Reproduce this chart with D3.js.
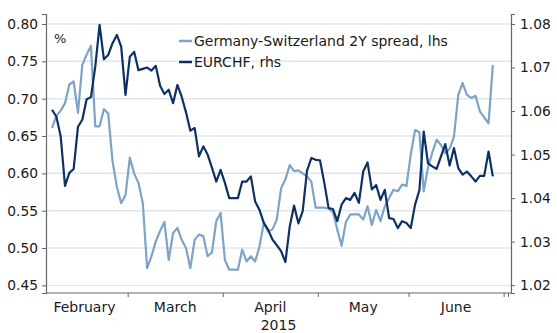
<!DOCTYPE html>
<html>
<head>
<meta charset="utf-8">
<script src="https://cdn.jsdelivr.net/npm/d3@7"></script>
<style>
	body { margin: 0; background: #fff; }
	svg text { font-family: "DejaVu Sans", Verdana, sans-serif; fill: #1a1a1a; }
</style>
</head>
<body>
<div id="chart-area"></div>
<script>

// months on the x axis (business-day axis)
var months = ["February", "March", "April", "May", "June"];
var yearLabel = "2015";
var firstDate = "2015-02-04";

// left axis ticks (%), right axis ticks (EURCHF)
var leftTicks = [0.45, 0.50, 0.55, 0.60, 0.65, 0.70, 0.75, 0.80];
var rightTicks = [1.02, 1.03, 1.04, 1.05, 1.06, 1.07, 1.08];

var seriesNames = ["Germany-Switzerland 2Y spread, lhs", "EURCHF, rhs"];

// Germany-Switzerland 2Y spread, daily (business days), from Feb 4
var spread = [
	0.661, 0.677, 0.684, 0.694, 0.719, 0.723, 0.681, 0.745, 0.759, 0.771,
	0.663, 0.663, 0.686, 0.680, 0.616, 0.582, 0.560, 0.571, 0.621, 0.600,
	0.587, 0.560, 0.473, 0.489, 0.509, 0.523, 0.535, 0.484, 0.520, 0.527,
	0.511, 0.500, 0.473, 0.511, 0.518, 0.516, 0.489, 0.494, 0.536, 0.547,
	0.484, 0.471, 0.471, 0.471, 0.498, 0.482, 0.489, 0.482, 0.502, 0.534,
	0.522, 0.525, 0.538, 0.580, 0.592, 0.611, 0.603, 0.604, 0.600, 0.596,
	0.589, 0.554, 0.554, 0.554, 0.553, 0.548, 0.525, 0.503, 0.535, 0.545,
	0.545, 0.545, 0.538, 0.556, 0.531, 0.551, 0.536, 0.556, 0.567, 0.578,
	0.576, 0.585, 0.583, 0.625, 0.658, 0.655, 0.576, 0.608, 0.628, 0.645,
	0.638, 0.627, 0.633, 0.649, 0.705, 0.721, 0.705, 0.701, 0.704, 0.683,
	0.675, 0.667, 0.745
];

// EURCHF, same days
var eurchf = [
	1.0603, 1.0587, 1.0542, 1.0428, 1.0458, 1.0467, 1.0564, 1.0580, 1.0627, 1.0632,
	1.0702, 1.0798, 1.0719, 1.0729, 1.0756, 1.0775, 1.0748, 1.0637, 1.0725, 1.0736,
	1.0694, 1.0697, 1.0700, 1.0693, 1.0704, 1.0658, 1.0639, 1.0649, 1.0618, 1.0660,
	1.0633, 1.0597, 1.0555, 1.0561, 1.0496, 1.0519, 1.0500, 1.0470, 1.0438, 1.0465,
	1.0435, 1.0400, 1.0400, 1.0400, 1.0438, 1.0438, 1.0450, 1.0392, 1.0373, 1.0343,
	1.0327, 1.0305, 1.0292, 1.0278, 1.0253, 1.0335, 1.0383, 1.0342, 1.0370, 1.0463,
	1.0492, 1.0488, 1.0487, 1.0435, 1.0377, 1.0375, 1.0347, 1.0385, 1.0400, 1.0396,
	1.0412, 1.0389, 1.0461, 1.0482, 1.0420, 1.0430, 1.0396, 1.0419, 1.0354, 1.0352,
	1.0331, 1.0347, 1.0343, 1.0331, 1.0385, 1.0418, 1.0553, 1.0480, 1.0473, 1.0467,
	1.0496, 1.0524, 1.0475, 1.0515, 1.0469, 1.0454, 1.0461, 1.0450, 1.0438, 1.0451,
	1.0451, 1.0507, 1.0450
];

var colors = ["#7fa3c7", "#0d3163"];


/**
 * DualAxisChart - two lines, one on each y axis
 */
DualAxisChart = function(_parentElement) {
	this.parentElement = _parentElement;
	this.initVis();
}

DualAxisChart.prototype.initVis = function() {
	var vis = this;

	vis.width = 557;
	vis.height = 333;
	vis.left = 46;
	vis.right = 511;
	vis.top = 14;
	vis.bottom = 293;

	vis.svg = d3.select("#" + vis.parentElement).append("svg")
		.attr("width", vis.width)
		.attr("height", vis.height);

	// business days from Feb 2 to Jul 1, 2015
	var parse = d3.timeParse("%Y-%m-%d");
	vis.days = d3.timeDay.range(new Date(2015, 1, 2), new Date(2015, 6, 2))
		.filter(function(d) { return d.getDay() !== 0 && d.getDay() !== 6; });
	var start = vis.days.findIndex(function(d) { return +d === +parse(firstDate); });

	// index scale over business days
	vis.x = d3.scaleLinear().domain([1.1, 108.7]).range([vis.left, vis.right]);
	vis.yL = d3.scaleLinear().domain([0.4398, 0.8134]).range([vis.bottom, vis.top]);
	vis.yR = d3.scaleLinear().domain([1.0182, 1.0823]).range([vis.bottom, vis.top]);

	// gridlines
	vis.svg.append("g")
		.selectAll("line")
		.data(leftTicks)
		.enter().append("line")
		.attr("x1", vis.left).attr("x2", vis.right)
		.attr("y1", function(d) { return vis.yL(d); })
		.attr("y2", function(d) { return vis.yL(d); })
		.attr("stroke", "#dfe7ef")
		.attr("stroke-width", 1.5);

	// axes
	var axL = vis.svg.append("g")
		.attr("transform", "translate(" + vis.left + ",0)")
		.call(d3.axisLeft(vis.yL).tickValues(leftTicks).tickFormat(d3.format(".2f")).tickSizeOuter(0).tickSize(4).tickPadding(4));
	var axR = vis.svg.append("g")
		.attr("transform", "translate(" + vis.right + ",0)")
		.call(d3.axisRight(vis.yR).tickValues(rightTicks).tickFormat(d3.format(".2f")).tickSizeOuter(0).tickSize(4).tickPadding(5));

	// month boundaries
	var bounds = [];
	vis.days.forEach(function(d, i) {
		if (i === 0 || d.getMonth() !== vis.days[i - 1].getMonth()) bounds.push(i);
	});
	bounds.push(vis.days.length);
	var axB = vis.svg.append("g")
		.attr("transform", "translate(0," + vis.bottom + ")")
		.call(d3.axisBottom(vis.x).tickValues(bounds.slice(1)).tickFormat("").tickSizeOuter(0).tickSize(4));

	[axL, axR, axB].forEach(function(ax) {
		ax.select(".domain").attr("stroke", "#666").attr("stroke-width", 1.2);
		ax.selectAll(".tick line").attr("stroke", "#666");
		ax.selectAll("text").attr("font-size", 13.8).attr("font-family", null).attr("fill", "#1a1a1a");
	});
	axB.select(".domain").attr("d", "M" + vis.left + ",0H" + vis.right);

	vis.svg.append("g").selectAll("text")
		.data(months)
		.enter().append("text")
		.attr("x", function(d, i) { return vis.x((bounds[i] + bounds[i + 1]) / 2); })
		.attr("y", 312)
		.attr("text-anchor", "middle")
		.attr("font-size", 14)
		.text(function(d) { return d; });

	vis.svg.append("text")
		.attr("x", (vis.left + vis.right) / 2)
		.attr("y", 330)
		.attr("text-anchor", "middle")
		.attr("font-size", 14)
		.text(yearLabel);

	vis.svg.append("text")
		.attr("x", 54).attr("y", 43)
		.attr("font-size", 13)
		.text("%");

	// lines
	var lineL = d3.line()
		.x(function(d, i) { return vis.x(start + i + 0.5); })
		.y(function(d) { return vis.yL(d); });
	var lineR = d3.line()
		.x(function(d, i) { return vis.x(start + i + 0.5); })
		.y(function(d) { return vis.yR(d); });

	vis.svg.append("path")
		.datum(spread)
		.attr("d", lineL)
		.attr("fill", "none")
		.attr("stroke", colors[0])
		.attr("stroke-width", 2.2)
		.attr("stroke-linejoin", "round");

	vis.svg.append("path")
		.datum(eurchf)
		.attr("d", lineR)
		.attr("fill", "none")
		.attr("stroke", colors[1])
		.attr("stroke-width", 2.2)
		.attr("stroke-linejoin", "round");

	// legend
	var legend = vis.svg.append("g").attr("transform", "translate(179,0)");
	legend.selectAll("line")
		.data(seriesNames)
		.enter().append("line")
		.attr("x1", 0).attr("x2", 13)
		.attr("y1", function(d, i) { return 41 + i * 21; })
		.attr("y2", function(d, i) { return 41 + i * 21; })
		.attr("stroke", function(d, i) { return colors[i]; })
		.attr("stroke-width", 2.5);
	legend.selectAll("text")
		.data(seriesNames)
		.enter().append("text")
		.attr("x", 15)
		.attr("y", function(d, i) { return 46 + i * 21; })
		.attr("font-size", 14)
		.text(function(d) { return d; });
}

new DualAxisChart("chart-area");

</script>
</body>
</html>
